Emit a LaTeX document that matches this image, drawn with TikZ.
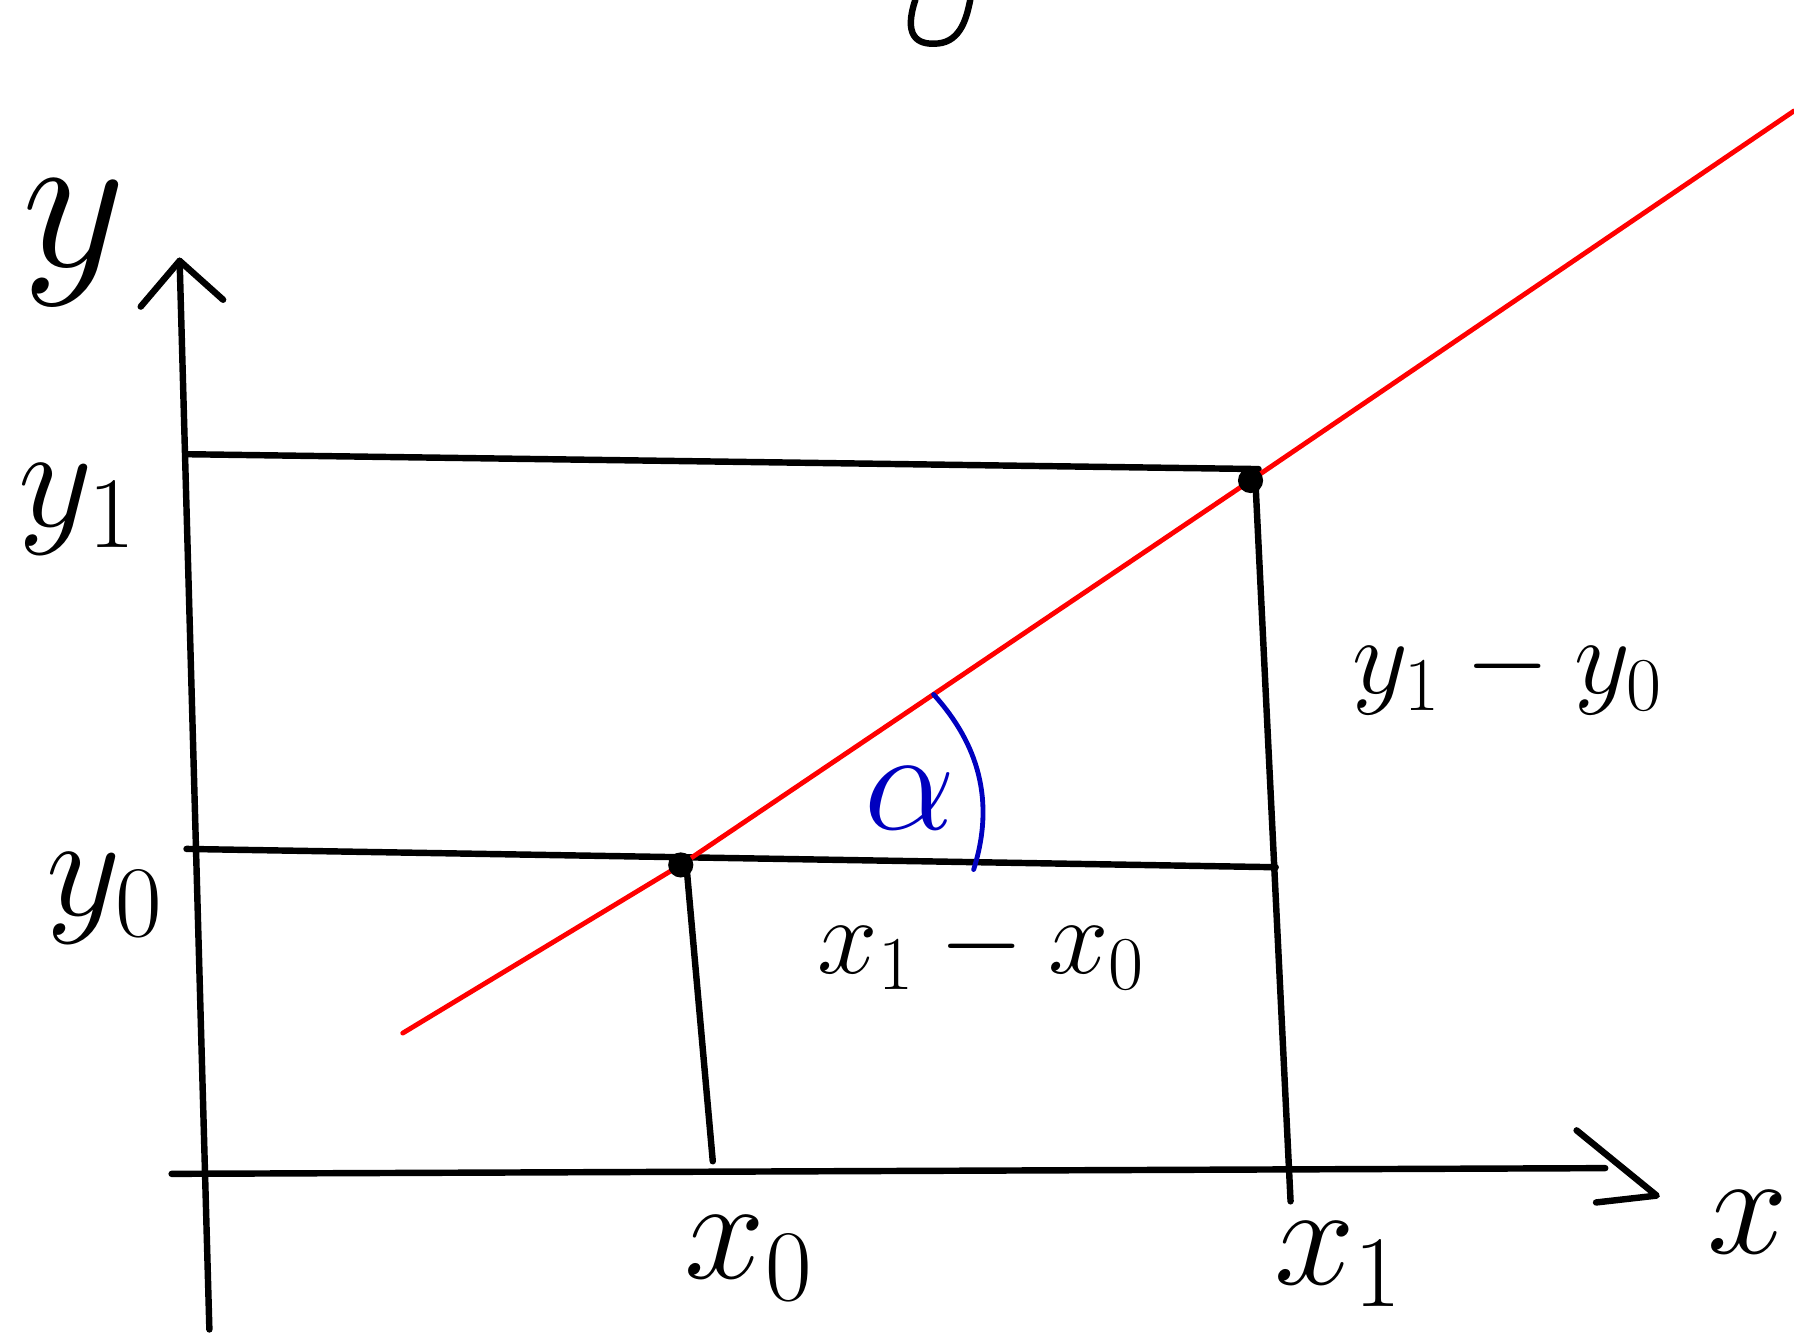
\RequirePackage{fix-cm}
\documentclass[tikz,border=0pt]{standalone}
\begin{document}
\begin{tikzpicture}[x=.01cm,y=-.01cm,line cap=round,line join=round,
  ax/.style={line width=1.6pt},red line/.style={line width=1.2pt,red},ang/.style={line width=1.2pt,blue!75!black},
  lbl/.style={font=\fontsize{36}{40}\selectfont},difflbl/.style={font=\fontsize{27}{30}\selectfont}]
  \useasboundingbox (0,0) rectangle (1568,1168);
  \coordinate (yb) at (183,1162); \coordinate (yt) at (157,228); \coordinate (xl) at (150,1026); \coordinate (xa) at (1403,1021); \coordinate (xt) at (1448,1045);
  \coordinate (P0) at (595,756); \coordinate (P1) at (1093,420); \coordinate (rs) at (352,903); \coordinate (re) at (1568,97);
  \draw[ax] (yb)--(yt); \draw[ax] (123,268)--(yt)--(195,262);
  \draw[ax] (xl)--(xa); \draw[ax] (1378,988)--(xt)--(1395,1051);
  \draw[ax] (163,397)--(1100,410); \draw[ax] (163,742)--(1115,758);
  \draw[ax] (600,757)--(623,1015); \draw[ax] (1097,415)--(1128,1050);
  \draw[red line] (rs)--(P0)--(P1)--(re);
  \foreach \p in {P0,P1} {\fill (\p) circle (11);}
  \draw[ang] (816,607) .. controls (855,650) and (870,700) .. (851,760);
  \draw[ax] (800,0) .. controls (790,30) and (800,40) .. (820,38) .. controls (840,36) and (845,15) .. (848,0);
  \node[lbl,font=\fontsize{50}{54}\selectfont] (ylab) at (65,212) {$y$};
  \node[lbl] (y1lab) at (68,445) {$y_1$}; \node[lbl] (y0lab) at (92,785) {$y_0$};
  \node[lbl] (x0lab) at (655,1100) {$x_0$}; \node[lbl] (x1lab) at (1170,1105) {$x_1$}; \node[lbl] (xlab) at (1528,1068) {$x$};
  \node[difflbl] (dylab) at (1318,588) {$y_1 - y_0$}; \node[difflbl] (dxlab) at (858,830) {$x_1 - x_0$};
  \node[lbl,blue!75!black] (alab) at (795,698) {$\alpha$};
\end{tikzpicture}
\end{document}
